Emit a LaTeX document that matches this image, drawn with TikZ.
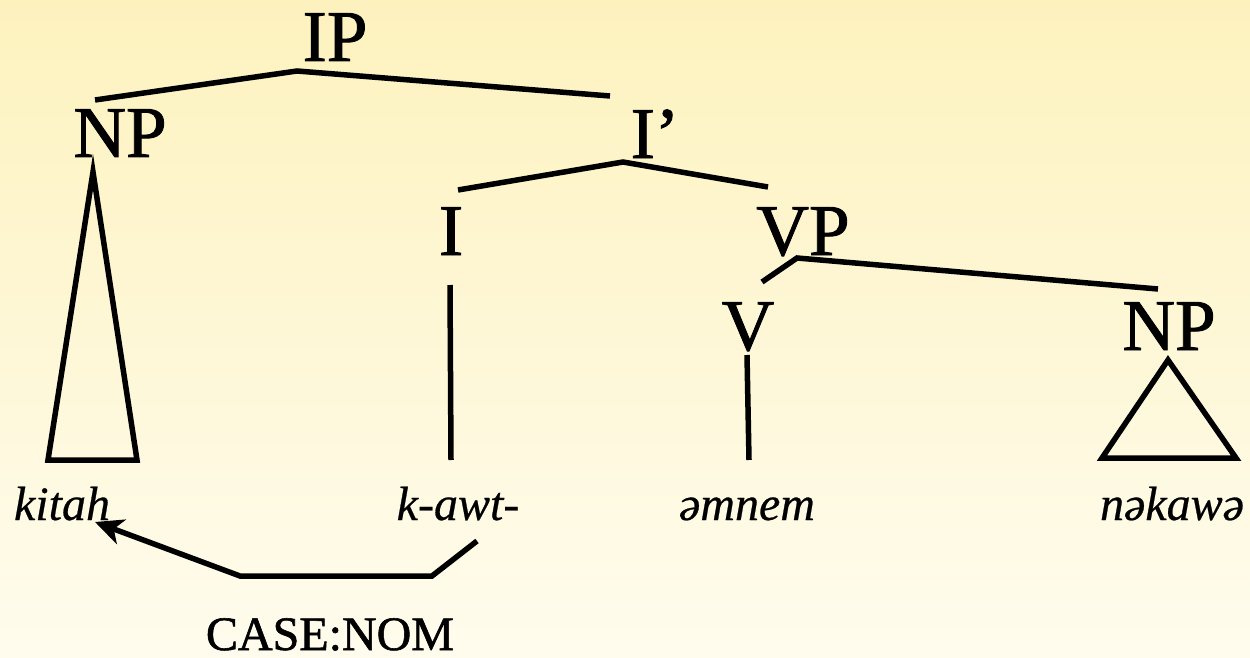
\documentclass[tikz,border=0pt]{standalone}
\usepackage{fontspec}
\setmainfont{Liberation Serif}[UprightFeatures={FakeBold=1.2}, ItalicFeatures={FakeBold=0.5}]
\usetikzlibrary{arrows.meta}
\definecolor{bgtop}{RGB}{253,242,190}
\definecolor{bgbottom}{RGB}{255,252,238}

\begin{document}
\begin{tikzpicture}[x=1pt, y=-1pt]
%define

\tikzstyle{cat} = [inner sep=0pt, anchor=base, font=\fontsize{73}{80}\selectfont]
\tikzstyle{word} = [inner sep=0pt, anchor=base, font=\fontsize{48}{55}\selectfont\itshape]
\tikzstyle{feat} = [inner sep=0pt, anchor=base, font=\fontsize{48}{55}\selectfont]
\tikzstyle{branch} = [line width=5.5pt, line cap=butt]
\tikzstyle{arrow} = [line width=5.5pt, -{Stealth[length=28pt, width=26pt, inset=8pt]}]

%background
\shade[top color=bgtop, bottom color=bgbottom](0,0)rectangle(1250,658);
\useasboundingbox (0,0)rectangle(1250,658);

\node[cat](state_IP) at (335,61){IP};
\node[cat](state_NPs) at (120,157){NP};
\node[cat](state_Ibar) at (655,158){I’};
\node[cat](state_I) at (451,255){I};
\node[cat](state_VP) at (803,255){VP};
\node[cat](state_V) at (748,350){V};
\node[cat](state_NPo) at (1169,350){NP};

\node[word](word_kitah) at (62,520){kitah};
\node[word](word_kawt) at (458,520){k-awt-};
\node[word](word_amnem) at (747,520){əmnem};
\node[word](word_nakawa) at (1172,520){nəkawə};
\node[feat](feat_case) at (330,650){CASE:NOM};

%line

\draw[branch]([xshift=-25pt, yshift=57pt]state_NPs.base)--([xshift=-38pt, yshift=-10pt]state_IP.base)--([xshift=-45pt, yshift=62pt]state_Ibar.base); %IP->NP, I'
\draw[branch]([xshift=7pt, yshift=65pt]state_I.base)--([xshift=-32pt, yshift=-4pt]state_Ibar.base)--([xshift=-35pt, yshift=68pt]state_VP.base); %I'->I, VP
\draw[branch]([xshift=14pt, yshift=68pt]state_V.base)--([xshift=-6pt, yshift=-3pt]state_VP.base)--([xshift=-11pt, yshift=61pt]state_NPo.base); %VP->V, NP
\draw[branch]([xshift=-1pt, yshift=-30pt]state_I.base)--([xshift=-7pt, yshift=60pt]word_kawt.base); %I->k-awt-
\draw[branch]([xshift=-1pt, yshift=-5pt]state_V.base)--([xshift=2pt, yshift=60pt]word_amnem.base); %V->amnem

%triangles
\draw[branch, line join=miter]([xshift=-27pt, yshift=-15pt]state_NPs.base)--([xshift=-14pt, yshift=60pt]word_kitah.base)--([xshift=75pt, yshift=60pt]word_kitah.base)--cycle;
\draw[branch, line join=miter]([xshift=-1pt, yshift=-10pt]state_NPo.base)--([xshift=-70pt, yshift=62pt]word_nakawa.base)--([xshift=64pt, yshift=62pt]word_nakawa.base)--cycle;

%case arrow
\draw[arrow]([xshift=19pt, yshift=-21pt]word_kawt.base)--([xshift=102pt, yshift=74pt]feat_case.base)--([xshift=-90pt, yshift=74pt]feat_case.base)--([xshift=33pt, yshift=-2pt]word_kitah.base);

\end{tikzpicture}
\end{document}
